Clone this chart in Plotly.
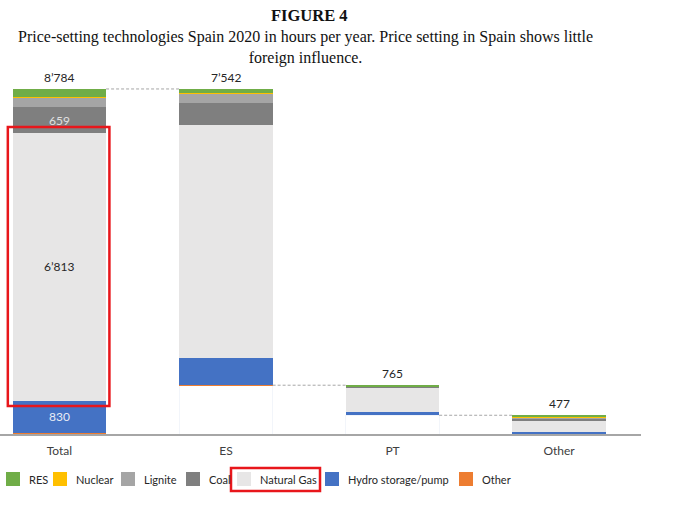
import plotly.graph_objects as go

categories = ["Total", "ES", "PT", "Other"]
series_names = ["Other", "Hydro storage/pump", "Natural Gas", "Coal", "Lignite", "Nuclear", "RES"]
other = [20, 10, 0, 2]
hydro = [830, 680, 90, 60]
gas = [6813, 5947, 610, 285]
coal = [659, 555, 30, 40]
lignite = [232, 230, 10, 30]
nuclear = [35, 25, 0, 25]
res = [195, 95, 25, 35]

series_values = [other, hydro, gas, coal, lignite, nuclear, res]
colors = ["#ED7D31", "#4472C4", "#E7E6E6", "#7F7F7F", "#A5A5A5", "#FFC000", "#70AD47"]
legend_order = ["RES", "Nuclear", "Lignite", "Coal", "Natural Gas", "Hydro storage/pump", "Other"]

totals = [sum(s[i] for s in series_values) for i in range(len(categories))]
bases = [0]
running = totals[0]
for t in totals[1:]:
    running -= t
    bases.append(running)

W = 0.56
x = list(range(len(categories)))
PLOT_W, PLOT_TOP, PLOT_BOT = 641, 80, 434
PLOT_H = PLOT_BOT - PLOT_TOP

def px_x(p):
    return p / PLOT_W

def px_y(p):
    return (PLOT_BOT - p) / PLOT_H

def fmt(v):
    return f"{v:,}".replace(",", "\u2019")

fig = go.Figure()
fig.add_trace(go.Bar(x=x, y=bases, marker_color="rgba(0,0,0,0)", width=W,
                     showlegend=False, hoverinfo="skip"))
for name, vals, col in zip(series_names, series_values, colors):
    fig.add_trace(go.Bar(x=x, y=vals, name=name, marker_color=col, width=W,
                         marker_line_width=0, showlegend=False))

ann = []
for i, t in enumerate(totals):
    ann.append(dict(x=i, y=bases[i] + t, text=fmt(t), showarrow=False, yanchor="bottom", yshift=2,
                    font=dict(family="Lato", size=12, color="#262626")))
cum = 0
inside = {"Hydro storage/pump": "#E8ECF5", "Natural Gas": "#262626", "Coal": "#E0E0E0"}
for name, vals in zip(series_names, series_values):
    v = vals[0]
    if name in inside:
        ann.append(dict(x=0, y=cum + v / 2, text=fmt(v), showarrow=False,
                        font=dict(family="Lato", size=12, color=inside[name])))
    cum += v

ann.append(dict(x=px_x(309), xref="paper", y=px_y(16), yref="paper", yanchor="middle", showarrow=False,
                text="<b>FIGURE 4</b>", font=dict(family="Liberation Serif", size=16.5, color="#111")))
ann.append(dict(x=px_x(305), xref="paper", y=px_y(47), yref="paper", yanchor="middle", showarrow=False,
                text="Price-setting technologies Spain 2020 in hours per year. Price setting in Spain shows little<br>foreign influence.",
                font=dict(family="Liberation Serif", size=16, color="#111")))

shapes = []
for i in range(len(categories) - 1):
    yv = bases[i + 1] + totals[i + 1]
    shapes.append(dict(type="line", x0=i + W / 2, x1=i + 1 - W / 2, y0=yv, y1=yv, xref="x", yref="y",
                       line=dict(color="#A6A6A6", width=1, dash="3px,2px")))

text_left = [27, 74, 142, 207, 258, 346, 480]
color_of = dict(zip(series_names, colors))
for name, tl in zip(legend_order, text_left):
    shapes.append(dict(type="rect", xref="paper", yref="paper", x0=px_x(tl - 21), x1=px_x(tl - 7),
                       y0=px_y(486), y1=px_y(472), fillcolor=color_of[name], line=dict(width=0)))
    ann.append(dict(x=px_x(tl), xref="paper", y=px_y(479), yref="paper", xanchor="left", yanchor="middle",
                    showarrow=False, text=name, font=dict(family="Lato", size=11, color="#262626")))

gas_bottom = other[0] + hydro[0]
gas_top = gas_bottom + gas[0]
shapes.append(dict(type="rect", x0=-0.31, x1=0.30, y0=gas_bottom - 140, y1=gas_top + 150,
                   xref="x", yref="y", line=dict(color="#E8161B", width=2.5)))
shapes.append(dict(type="rect", xref="paper", yref="paper", x0=px_x(231), x1=px_x(320),
                   y0=px_y(491), y1=px_y(468), line=dict(color="#E8161B", width=2.5)))

fig.update_layout(
    barmode="stack",
    width=680, height=514,
    margin=dict(l=0, r=680 - PLOT_W, t=PLOT_TOP, b=514 - PLOT_BOT),
    paper_bgcolor="white", plot_bgcolor="white",
    xaxis=dict(tickvals=x, ticktext=categories, range=[-0.357, 3.492], showline=True,
               linecolor="#A6A6A6", linewidth=2, ticks="", showgrid=False, zeroline=False,
               ticklabelstandoff=5,
               tickfont=dict(family="Lato", size=12, color="#404040")),
    yaxis=dict(range=[0, 9012], visible=False, showgrid=False),
    showlegend=False,
    annotations=ann,
    shapes=shapes,
)
fig.write_html("out.html")
